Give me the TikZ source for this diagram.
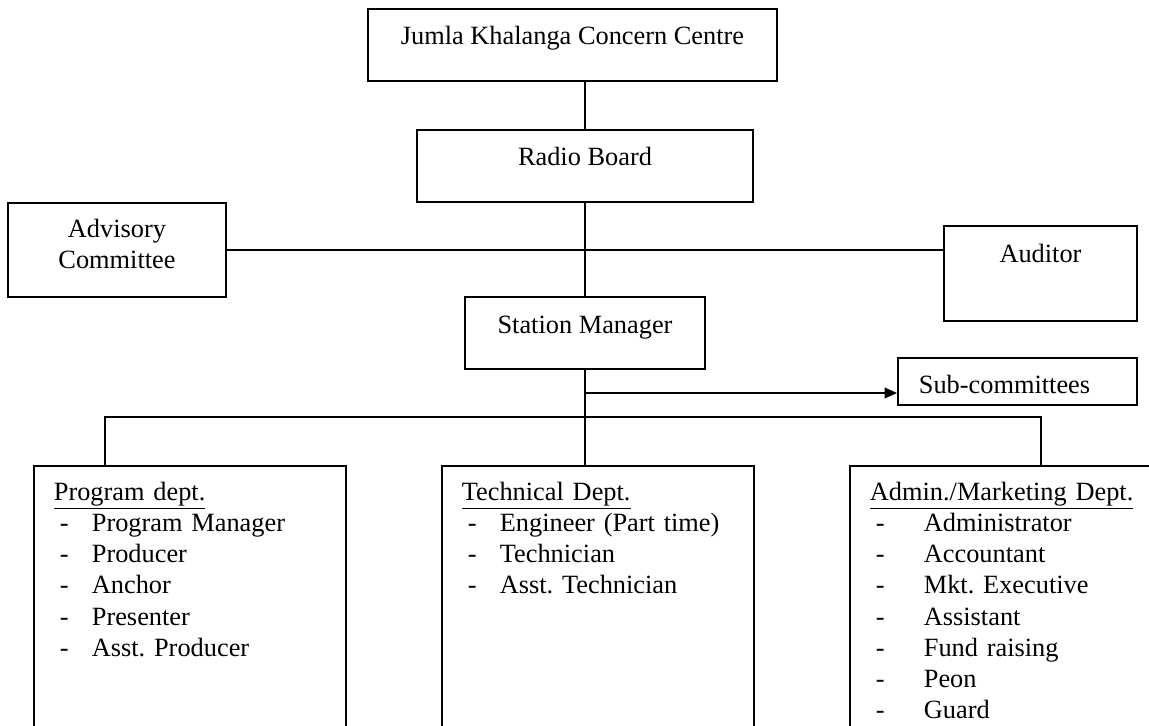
\documentclass[tikz,border=0pt]{standalone}
\usepackage{fontspec}
\setmainfont{Liberation Serif}
\usetikzlibrary{arrows.meta}
\usetikzlibrary{positioning}
\frenchspacing
\newlength{\pxu}
\setlength{\pxu}{0.02cm}
\newcommand{\deptitem}[2][38]{\makebox[#1\pxu][l]{\hspace{6\pxu}-}#2}

\begin{document}
\begin{tikzpicture}[x=0.02cm, y=-0.02cm,
  box/.style={draw, line width=1pt, inner sep=0pt, font=\fontsize{15}{17.8}\selectfont},
  deptbox/.style={box, anchor=base west, align=left, inner xsep=0.4cm,
    text width=5.44cm, text height=0.68cm, text depth=5.2cm},
  conn/.style={line width=1pt},
  arr/.style={line width=1pt, -{Triangle[length=7pt, width=6pt]}}]

% picture frame
\clip (0,0) rectangle (1149,726);

\def \topH {0.72cm}
\def \lowH {1.18cm}

% top of the chart
\node[box, anchor=base, minimum width=8.18cm, text height=\topH, text depth=\topH]
  (centre) at (572.5,45) {Jumla Khalanga Concern Centre};
\node[box, anchor=base, minimum width=6.72cm, text height=\topH, text depth=\topH]
  (board) at (585,166) {Radio Board};

% side boxes
\node[box, anchor=base, minimum width=4.36cm, text height=0.68cm, text depth=1.2cm]
  (advisory) at (117,237) {\begin{tabular}[t]{@{}c@{}}Advisory\\Committee\end{tabular}};
\node[box, anchor=base, minimum width=3.86cm, text height=\topH, text depth=\lowH]
  (auditor) at (1040.5,262) {Auditor};

% manager
\node[box, anchor=base, minimum width=4.8cm, text height=\topH, text depth=\topH]
  (manager) at (585,333) {Station Manager};
\node[box, anchor=base west, align=left, text width=3.94cm, inner xsep=0.42cm,
  text height=0.70cm, text depth=0.24cm] (subcom) at (897,393) {Sub-committees};

% departments
\node[deptbox] (program) at (33,500) {\begin{tabular}[t]{@{}l@{}}
  \underline{Program dept.}\\
  \deptitem{Program Manager}\\
  \deptitem{Producer}\\
  \deptitem{Anchor}\\
  \deptitem{Presenter}\\
  \deptitem{Asst. Producer}
\end{tabular}};
\node[deptbox] (technical) at (441,500) {\begin{tabular}[t]{@{}l@{}}
  \underline{Technical Dept.}\\
  \deptitem{Engineer (Part time)}\\
  \deptitem{Technician}\\
  \deptitem{Asst. Technician}
\end{tabular}};
\node[deptbox] (admin) at (849,500) {\begin{tabular}[t]{@{}l@{}}
  \underline{Admin./Marketing Dept.}\\
  \deptitem[54]{Administrator}\\
  \deptitem[54]{Accountant}\\
  \deptitem[54]{Mkt. Executive}\\
  \deptitem[54]{Assistant}\\
  \deptitem[54]{Fund raising}\\
  \deptitem[54]{Peon}\\
  \deptitem[54]{Guard}
\end{tabular}};

% branch corners
\coordinate (bleft) at (105,417);
\coordinate (bright) at (1041,417);

% lines
\draw[conn] (centre.south -| board.north) -- (board.north);
\draw[conn] (board.south) -- (manager.north);
\draw[conn] (advisory.east) -- (advisory.east -| auditor.west);
\draw[conn] (manager.south) -- (manager.south |- technical.north);
\draw[conn] (program.north -| bleft) -- (bleft) -- (bright) -- (admin.north -| bright);

% arrow to sub-committees
\draw[arr] (manager.south |- subcom.base west) -- (subcom.base west);

\end{tikzpicture}
\end{document}
